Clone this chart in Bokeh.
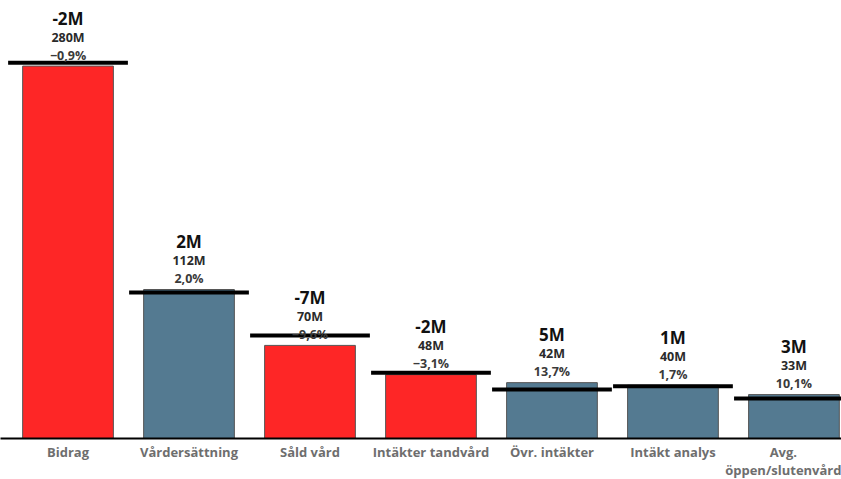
from bokeh.plotting import figure
from bokeh.models import ColumnDataSource, Range1d, FixedTicker
from bokeh.core.properties import value
from bokeh.embed import file_html
from bokeh.resources import INLINE

categories = ["Bidrag", "Vårdersättning", "Såld vård", "Intäkter tandvård",
              "Övr. intäkter", "Intäkt analys", "Avg.\nöppen/slutenvård"]
actual = [280, 112, 70, 48, 42, 40, 33]
budget = [282.5, 109.8, 77.4, 49.5, 36.9, 39.3, 30.0]
diff_labels = ["-2M", "2M", "-7M", "-2M", "5M", "1M", "3M"]
value_labels = ["280M", "112M", "70M", "48M", "42M", "40M", "33M"]
pct_labels = ["\u22120,9%", "2,0%", "\u22129,6%", "\u22123,1%", "13,7%", "1,7%", "10,1%"]

RED = "#fe2626"
BLUE = "#547a91"
colors = [RED if d.startswith("-") else BLUE for d in diff_labels]
xs = list(range(len(categories)))

src = ColumnDataSource(dict(x=xs, actual=actual, budget=budget, color=colors,
                            diff=diff_labels, val=value_labels, pct=pct_labels,
                            x0=[x - 0.495 for x in xs], x1=[x + 0.495 for x in xs]))

p = figure(frame_width=841, frame_height=438, output_backend="svg",
           toolbar_location=None, min_border=0,
           x_range=Range1d(-0.558, 6.393), y_range=Range1d(0, 329.3))

p.vbar(x="x", top="actual", bottom=0, width=0.75, fill_color="color",
       line_color="#555555", line_width=1, source=src)
p.segment(x0="x0", y0="budget", x1="x1", y1="budget", line_color="black",
          line_width=4, source=src)

p.text(x="x", y="actual", text="pct", y_offset=-11, text_align="center",
       text_baseline="middle", text_font=value("Open Sans"), text_font_size="12.5px",
       text_font_style="bold", text_color="#3a3a3a", source=src)
p.text(x="x", y="actual", text="val", y_offset=-29, text_align="center",
       text_baseline="middle", text_font=value("Open Sans"), text_font_size="12.5px",
       text_font_style="bold", text_color="#2a2a2a", source=src)
p.text(x="x", y="actual", text="diff", y_offset=-48, text_align="center",
       text_baseline="middle", text_font=value("Open Sans"), text_font_size="17px",
       text_font_style="bold", text_color="#111111", source=src)

p.xaxis.ticker = FixedTicker(ticks=xs)
p.xaxis.major_label_overrides = {i: c for i, c in enumerate(categories)}
p.xaxis.major_tick_line_color = None
p.xaxis.minor_tick_line_color = None
p.xaxis.major_tick_out = 0
p.xaxis.major_tick_in = 0
p.xaxis.axis_line_color = "black"
p.xaxis.axis_line_width = 2
p.xaxis.major_label_standoff = 4
p.xaxis.major_label_text_font = "Open Sans"
p.xaxis.major_label_text_font_size = "13px"
p.xaxis.major_label_text_font_style = "bold"
p.xaxis.major_label_text_color = "#6e6e6e"
p.xaxis.major_label_text_line_height = 1.0
p.yaxis.visible = False
p.xgrid.visible = False
p.ygrid.visible = False
p.outline_line_color = None
p.background_fill_color = "white"
p.border_fill_color = "white"

open("out.html", "w").write(file_html(p, INLINE))
